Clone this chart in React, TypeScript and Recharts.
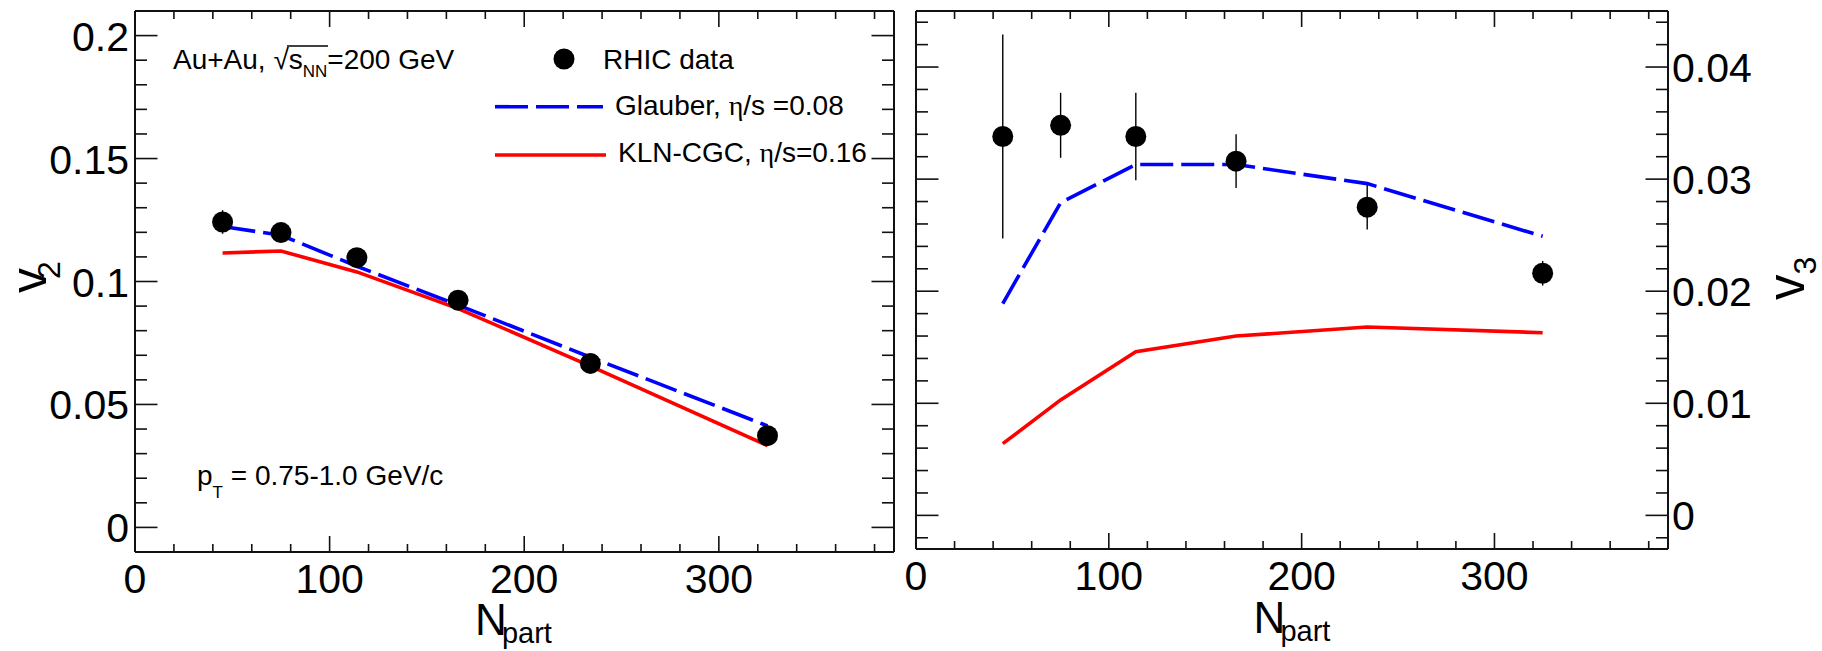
import React from 'react';
import { ComposedChart, Line, Scatter, ErrorBar, XAxis, YAxis, Legend } from 'recharts';

// ---------- data ----------
const npart = [45, 75, 114, 166, 234, 325];

const v2Rhic = [0.1242, 0.1199, 0.1097, 0.0924, 0.0667, 0.0373];
const v2RhicErr = [0.0048, 0.0015, 0.0015, 0.0015, 0.0015, 0.0015];
const v2Glauber = [0.1224, 0.1188, 0.1062, 0.0904, 0.0692, 0.0413];
const v2Kln = [0.1116, 0.1124, 0.1039, 0.089, 0.0656, 0.0333];

const v3Rhic = [0.0338, 0.0348, 0.0338, 0.0316, 0.0275, 0.0216];
const v3RhicErr = [0.0091, 0.0029, 0.0039, 0.0024, 0.002, 0.0011];
const v3Glauber = [0.0189, 0.0279, 0.0313, 0.0313, 0.0296, 0.0249];
const v3Kln = [0.0064, 0.0103, 0.0146, 0.016, 0.0168, 0.0163];

const xDomain = [0, 390];
const xTicks = [0, 20, 40, 60, 80, 100, 120, 140, 160, 180, 200, 220, 240, 260, 280, 300, 320, 340, 360, 380];
const xMajor = [0, 100, 200, 300];

const v2Domain = [-0.01, 0.21];
const v2Ticks = [0, 0.01, 0.02, 0.03, 0.04, 0.05, 0.06, 0.07, 0.08, 0.09, 0.1, 0.11, 0.12, 0.13, 0.14, 0.15, 0.16, 0.17, 0.18, 0.19, 0.2];
const v2Major = [0, 0.05, 0.1, 0.15, 0.2];

const v3Domain = [-0.003, 0.045];
const v3Ticks = [-0.002, 0, 0.002, 0.004, 0.006, 0.008, 0.01, 0.012, 0.014, 0.016, 0.018, 0.02, 0.022, 0.024, 0.026, 0.028, 0.03, 0.032, 0.034, 0.036, 0.038, 0.04, 0.042, 0.044];
const v3Major = [0, 0.01, 0.02, 0.03, 0.04];

const seriesNames = {
  rhic: 'RHIC data',
  glauber: 'Glauber, η/s =0.08',
  kln: 'KLN-CGC, η/s=0.16',
};

const v2Rows = npart.map((n, i) => ({ n, rhic: v2Rhic[i], err: v2RhicErr[i], glauber: v2Glauber[i], kln: v2Kln[i] }));
const v3Rows = npart.map((n, i) => ({ n, rhic: v3Rhic[i], err: v3RhicErr[i], glauber: v3Glauber[i], kln: v3Kln[i] }));

// ---------- styles ----------
const FONT = '"Liberation Sans", Arial, Helvetica, sans-serif';
const SERIF = '"Liberation Serif", "DejaVu Serif", serif';
const BLUE = '#0000ff';
const RED = '#ff0000';
const DASH = '33 8';
const LINE_W = 3.6;
const TICK_FONT = 41;
const frameLine = { stroke: '#111', strokeWidth: 2 };

const isMajor = (v: number, majors: number[]) => majors.some((m) => Math.abs(m - v) < 1e-9);

function makeTick(side: 'bottom' | 'top' | 'left' | 'right', majors: number[], showLabel: boolean) {
  return (props: any) => {
    const { x, y, payload } = props;
    const major = isMajor(payload.value, majors);
    const horiz = side === 'bottom' || side === 'top';
    const len = horiz ? (major ? 16 : 8) : major ? 22.5 : 12;
    let x2 = x;
    let y2 = y;
    if (side === 'bottom') y2 = y - len;
    if (side === 'top') y2 = y + len;
    if (side === 'left') x2 = x + len;
    if (side === 'right') x2 = x - len;
    let label: React.ReactNode = null;
    if (showLabel && major) {
      const txt = String(payload.value);
      const common = { fontFamily: FONT, fontSize: TICK_FONT, fill: '#000' };
      if (side === 'bottom')
        label = (
          <text x={x} y={y + 41} textAnchor="middle" {...common}>
            {txt}
          </text>
        );
      if (side === 'left')
        label = (
          <text x={x - 6} y={y + 15} textAnchor="end" {...common}>
            {txt}
          </text>
        );
      if (side === 'right')
        label = (
          <text x={x + 4} y={y + 15} textAnchor="start" {...common}>
            {txt}
          </text>
        );
    }
    return (
      <g>
        <line x1={x} y1={y} x2={x2} y2={y2} stroke="#111" strokeWidth={1.6} />
        {label}
      </g>
    );
  };
}

const NpartTitle = (props: any) => (
  <text x={props.cx} y={props.baseline} textAnchor="middle" fontFamily={FONT} fill="#000">
    <tspan fontSize={44}>N</tspan>
    <tspan fontSize={29} dx={-5} dy={8}>
      part
    </tspan>
  </text>
);

const VTitle = (props: any) => (
  <text
    transform={`rotate(-90 ${props.px} ${props.py})`}
    x={props.px}
    y={props.py}
    fontFamily={FONT}
    fill="#000"
    fontSize={props.fs}
  >
    v
    <tspan fontSize={32} dx={props.sdx} dy={props.sdy}>
      {props.sub}
    </tspan>
  </text>
);

const Marker = (p: any) => <circle cx={p.cx} cy={p.cy} r={10.5} fill="#000" />;

function withEta(name: string) {
  const parts = name.split('η');
  if (parts.length < 2) return name;
  return (
    <>
      {parts[0]}
      <tspan fontFamily={SERIF}>η</tspan>
      {parts[1]}
    </>
  );
}

const legendOrder = ['rhic', 'glauber', 'kln'];

const renderLegend = (props: any) => {
  const payload: any[] = props.payload || [];
  const items = legendOrder.map(
    (k) => payload.find((p) => p.dataKey === k) || { dataKey: k, value: (seriesNames as any)[k] }
  );
  const rowY = [29, 76.7, 125];
  const textX = [123, 135, 138];
  const textY = [39, 85, 132];
  return (
    <svg width={420} height={145} style={{ overflow: 'visible', display: 'block' }}>
      {items.map((it: any, i: number) => (
        <g key={it.dataKey}>
          {it.dataKey === 'rhic' ? (
            <circle cx={84} cy={rowY[i]} r={10.5} fill="#000" />
          ) : (
            <line
              x1={15}
              x2={it.dataKey === 'glauber' ? 123 : 126}
              y1={rowY[i]}
              y2={rowY[i]}
              stroke={it.dataKey === 'glauber' ? BLUE : RED}
              strokeWidth={LINE_W}
              strokeDasharray={it.dataKey === 'glauber' ? DASH : undefined}
            />
          )}
          <text x={textX[i]} y={textY[i]} fontFamily={FONT} fontSize={28} fill="#000">
            {withEta(String(it.value))}
          </text>
        </g>
      ))}
    </svg>
  );
};

type PanelProps = {
  width: number;
  rows: any[];
  margin: any;
  bottomHeight: number;
  leftWidth: number;
  rightWidth: number;
  yDomain: number[];
  yTicks: number[];
  yMajor: number[];
  labelsOnLeft: boolean;
  xTitle: React.ReactElement;
  yTitle: React.ReactElement;
  withLegend: boolean;
};

function Panel(p: PanelProps) {
  return (
    <ComposedChart width={p.width} height={651} data={p.rows} margin={p.margin}>
      <XAxis
        xAxisId="b"
        dataKey="n"
        type="number"
        orientation="bottom"
        domain={xDomain}
        ticks={xTicks}
        interval={0}
        height={p.bottomHeight}
        tickSize={0}
        tickMargin={0}
        tickLine={false}
        axisLine={frameLine}
        tick={makeTick('bottom', xMajor, true)}
        label={p.xTitle}
      />
      <XAxis
        xAxisId="t"
        dataKey="n"
        type="number"
        orientation="top"
        domain={xDomain}
        ticks={xTicks}
        interval={0}
        height={10}
        tickSize={0}
        tickMargin={0}
        tickLine={false}
        axisLine={frameLine}
        tick={makeTick('top', xMajor, false)}
      />
      <YAxis
        yAxisId="l"
        type="number"
        orientation="left"
        domain={p.yDomain}
        ticks={p.yTicks}
        interval={0}
        width={p.leftWidth}
        tickSize={0}
        tickMargin={0}
        tickLine={false}
        axisLine={frameLine}
        tick={makeTick('left', p.yMajor, p.labelsOnLeft)}
        label={p.labelsOnLeft ? p.yTitle : undefined}
      />
      <YAxis
        yAxisId="r"
        type="number"
        orientation="right"
        domain={p.yDomain}
        ticks={p.yTicks}
        interval={0}
        width={p.rightWidth}
        tickSize={0}
        tickMargin={0}
        tickLine={false}
        axisLine={frameLine}
        tick={makeTick('right', p.yMajor, !p.labelsOnLeft)}
        label={p.labelsOnLeft ? undefined : p.yTitle}
      />
      <Scatter
        xAxisId="b"
        yAxisId="l"
        dataKey="rhic"
        name={seriesNames.rhic}
        fill="#000"
        shape={Marker}
        legendType="circle"
        isAnimationActive={false}
      >
        <ErrorBar dataKey="err" direction="y" width={0} stroke="#000" strokeWidth={1.4} isAnimationActive={false} />
      </Scatter>
      <Line
        xAxisId="t"
        yAxisId="r"
        dataKey="glauber"
        name={seriesNames.glauber}
        type="linear"
        stroke={BLUE}
        strokeWidth={LINE_W}
        strokeDasharray={DASH}
        dot={false}
        activeDot={false}
        isAnimationActive={false}
      />
      <Line
        xAxisId="t"
        yAxisId="r"
        dataKey="kln"
        name={seriesNames.kln}
        type="linear"
        stroke={RED}
        strokeWidth={LINE_W}
        dot={false}
        activeDot={false}
        isAnimationActive={false}
      />
      {p.withLegend ? (
        <Legend
          layout="vertical"
          align="center"
          verticalAlign="middle"
          wrapperStyle={{ left: 480, top: 30, width: 420, height: 145 }}
          content={renderLegend}
        />
      ) : null}
    </ComposedChart>
  );
}

export default function App() {
  return (
    <div style={{ position: 'absolute', left: 0, top: 0, width: 1822, height: 651, background: '#fff', overflow: 'hidden' }}>
      <div style={{ position: 'absolute', left: 0, top: 0 }}>
        <Panel
          width={905}
          rows={v2Rows}
          margin={{ top: 1, right: 1, bottom: 9, left: 15 }}
          bottomHeight={90}
          leftWidth={120}
          rightWidth={10}
          yDomain={v2Domain}
          yTicks={v2Ticks}
          yMajor={v2Major}
          labelsOnLeft={true}
          xTitle={<NpartTitle cx={513.5} baseline={635} />}
          yTitle={<VTitle px={46} py={293} sub="2" sdx={-11} sdy={14} fs={50} />}
          withLegend={true}
        />
      </div>
      <div style={{ position: 'absolute', left: 905, top: 0 }}>
        <Panel
          width={917}
          rows={v3Rows}
          margin={{ top: 1, right: 0, bottom: 10, left: 1 }}
          bottomHeight={92}
          leftWidth={10}
          rightWidth={154}
          yDomain={v3Domain}
          yTicks={v3Ticks}
          yMajor={v3Major}
          labelsOnLeft={false}
          xTitle={<NpartTitle cx={387} baseline={633} />}
          yTitle={<VTitle px={899} py={300} sub="3" sdx={0} sdy={12} fs={51} />}
          withLegend={false}
        />
      </div>
      <svg width={1822} height={651} style={{ position: 'absolute', left: 0, top: 0, pointerEvents: 'none' }}>
        <text x={173} y={69} fontFamily={FONT} fontSize={28} fill="#000">
          Au+Au, √s
          <tspan fontSize={17} dy={8}>
            NN
          </tspan>
          <tspan dy={-8}>=200 GeV</tspan>
        </text>
        <line x1={287} x2={328} y1={46} y2={46} stroke="#000" strokeWidth={1.4} />
        <text x={197} y={485} fontFamily={FONT} fontSize={28} fill="#000">
          p
          <tspan fontSize={17} dy={13}>
            T
          </tspan>
          <tspan dy={-13}> = 0.75-1.0 GeV/c</tspan>
        </text>
      </svg>
    </div>
  );
}
